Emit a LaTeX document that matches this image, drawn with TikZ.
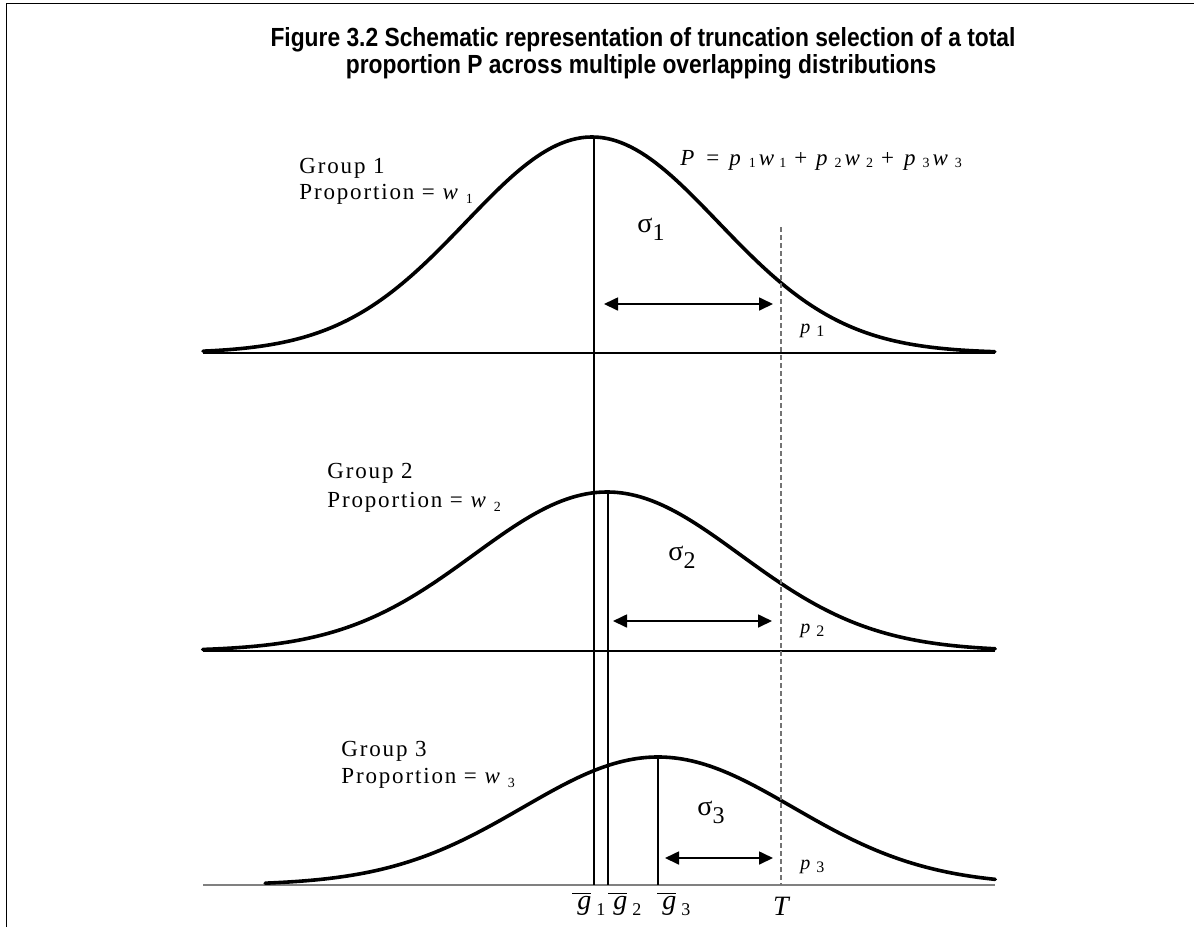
\documentclass[tikz,border=0pt]{standalone}
\usepackage{fontspec}
\setmainfont{Liberation Serif}
\newfontfamily\titlefont{Liberation Sans}
\newfontfamily\grpfont[LetterSpace=8]{Liberation Serif}
\usetikzlibrary{arrows.meta}
\newcommand{\lowsub}[3]{\lower#1\hbox{\upshape\fontsize{#2}{#2}\selectfont #3}}
\newcommand{\fs}[1]{\lowsub{1pt}{7}{#1}}
\newcommand{\gbar}[1]{$\overline{\hbox{\kern2.5pt\itshape g}}$\kern2.5pt\lowsub{3pt}{9}{#1}}
\newcommand{\sig}[1]{σ\lower4pt\hbox{\fontsize{12}{12}\selectfont #1}}
\begin{document}
\begin{tikzpicture}[x=0.5pt,y=-0.5pt,
  frame/.style={line width=0.7pt},
  curve/.style={line width=1.8pt, line join=round, line cap=round},
  axisline/.style={line width=0.65pt, black},
  axisgray/.style={line width=0.8pt, black!50},
  meanline/.style={line width=0.6pt},
  tline/.style={line width=0.65pt, black!55, dash pattern=on 2.5pt off 1.5pt},
  sigarrow/.style={{Triangle[length=7pt,width=6.5pt]}-{Triangle[length=7pt,width=6.5pt]}, line width=0.85pt},
  titletext/.style={anchor=base, inner sep=0pt, font=\titlefont\bfseries\fontsize{11.4}{13.5}\selectfont},
  grplabel/.style={anchor=base west, inner sep=0pt, font=\grpfont\fontsize{11.5}{13}\selectfont},
  siglabel/.style={anchor=base west, inner sep=0pt, font=\fontsize{14}{14}\selectfont},
  plabel/.style={anchor=base west, inner sep=0pt, font=\itshape\fontsize{10}{10}\selectfont},
  glabel/.style={anchor=base west, inner sep=0pt, font=\itshape\fontsize{14}{14}\selectfont},
  formula/.style={anchor=base west, inner sep=0pt, font=\fontsize{11.5}{13}\selectfont}
]
\useasboundingbox (0,0) rectangle (1194,927);
% frame
\coordinate (fbl) at (6.5,927);
\coordinate (ftl) at (6.5,3.5);
\coordinate (ftr) at (1194,3.5);
\draw[frame] (fbl) -- (ftl) -- (ftr);
% title
\node[titletext] (title1) at (643,46) {\scalebox{1}[1.15]{Figure 3.2 Schematic representation of truncation selection of a total}};
\node[titletext] (title2) at (641,73) {\scalebox{1}[1.15]{proportion P across multiple overlapping distributions}};
% baselines
\coordinate (b1l) at (203,353); \coordinate (b1r) at (995,353);
\coordinate (b2l) at (203,651); \coordinate (b2r) at (995,651);
\coordinate (b3l) at (203,885); \coordinate (b3r) at (995,885);
\draw[axisline] (b1l) -- (b1r);
\draw[axisline] (b2l) -- (b2r);
\draw[axisgray] (b3l) -- (b3r);
% curves
\draw[curve] plot[domain=-3.087:3.198, samples=160] ({592+126*\x},{353-216*exp(-0.5*\x*\x)});
\draw[curve] plot[domain=-3.04:2.92, samples=160] ({607+133*\x},{651-159*exp(-0.5*\x*\x)});
\draw[curve] plot[domain=-2.91:2.5, samples=160] ({658+135*\x},{885-128*exp(-0.5*\x*\x)});
% mean lines
\coordinate (m1t) at (594,137); \coordinate (m1b) at (594,885);
\coordinate (m2t) at (608,492); \coordinate (m2b) at (608,885);
\coordinate (m3t) at (658,757); \coordinate (m3b) at (658,885);
\draw[meanline] (m1t) -- (m1b);
\draw[meanline] (m2t) -- (m2b);
\draw[meanline] (m3t) -- (m3b);
% truncation line
\coordinate (tt) at (781,227); \coordinate (tb) at (781,885);
\draw[tline] (tt) -- (tb);
% sigma arrows
\coordinate (a1l) at (604,304); \coordinate (a1r) at (773,304);
\coordinate (a2l) at (613,621); \coordinate (a2r) at (772,621);
\coordinate (a3l) at (665,858); \coordinate (a3r) at (773,858);
\draw[sigarrow] (a1l) -- (a1r);
\draw[sigarrow] (a2l) -- (a2r);
\draw[sigarrow] (a3l) -- (a3r);
% sigma labels
\node[siglabel] (s1) at (637,232) {\sig{1}};
\node[siglabel] (s2) at (668,560) {\sig{2}};
\node[siglabel] (s3) at (697,815) {\sig{3}};
% p labels
\node[plabel] (p1) at (800,333) {p\hspace{3pt}\lowsub{1.5pt}{8}{1}};
\node[plabel] (p2) at (800,633) {p\hspace{3pt}\lowsub{1.5pt}{8}{2}};
\node[plabel] (p3) at (800,869) {p\hspace{3pt}\lowsub{1.5pt}{8}{3}};
% group labels
\node[grplabel] (n1) at (299,173) {Group 1};
\node[grplabel] (w1) at (299,199) {Proportion = {\itshape w}\hspace{4pt}\lowsub{2pt}{7}{1}};
\node[grplabel] (n2) at (327,478) {Group 2};
\node[grplabel] (w2) at (327,507) {Proportion = {\itshape w}\hspace{4pt}\lowsub{2pt}{7}{2}};
\node[grplabel] (n3) at (341,756) {Group 3};
\node[grplabel] (w3) at (341,783) {Proportion = {\itshape w}\hspace{4pt}\lowsub{2pt}{7}{3}};
% formula
\node[formula] (form) at (680,165) {{\itshape P}\kern6pt=\kern5pt{\itshape p}\kern4pt\fs{1}\kern1.5pt{\itshape w}\kern2.5pt\fs{1}\kern4pt+\kern4.5pt{\itshape p}\kern3.5pt\fs{2}\kern1.5pt{\itshape w}\kern3pt\fs{2}\kern4pt+\kern5pt{\itshape p}\kern3.5pt\fs{3}\kern1.5pt{\itshape w}\kern3.5pt\fs{3}};
% bottom labels
\node[glabel] (gm1) at (572,909) {\gbar{1}};
\node[glabel] (gm2) at (608,909) {\gbar{2}};
\node[glabel] (gm3) at (657,909) {\gbar{3}};
\node[glabel, anchor=base] (tl) at (781,915) {T};
\end{tikzpicture}
\end{document}
